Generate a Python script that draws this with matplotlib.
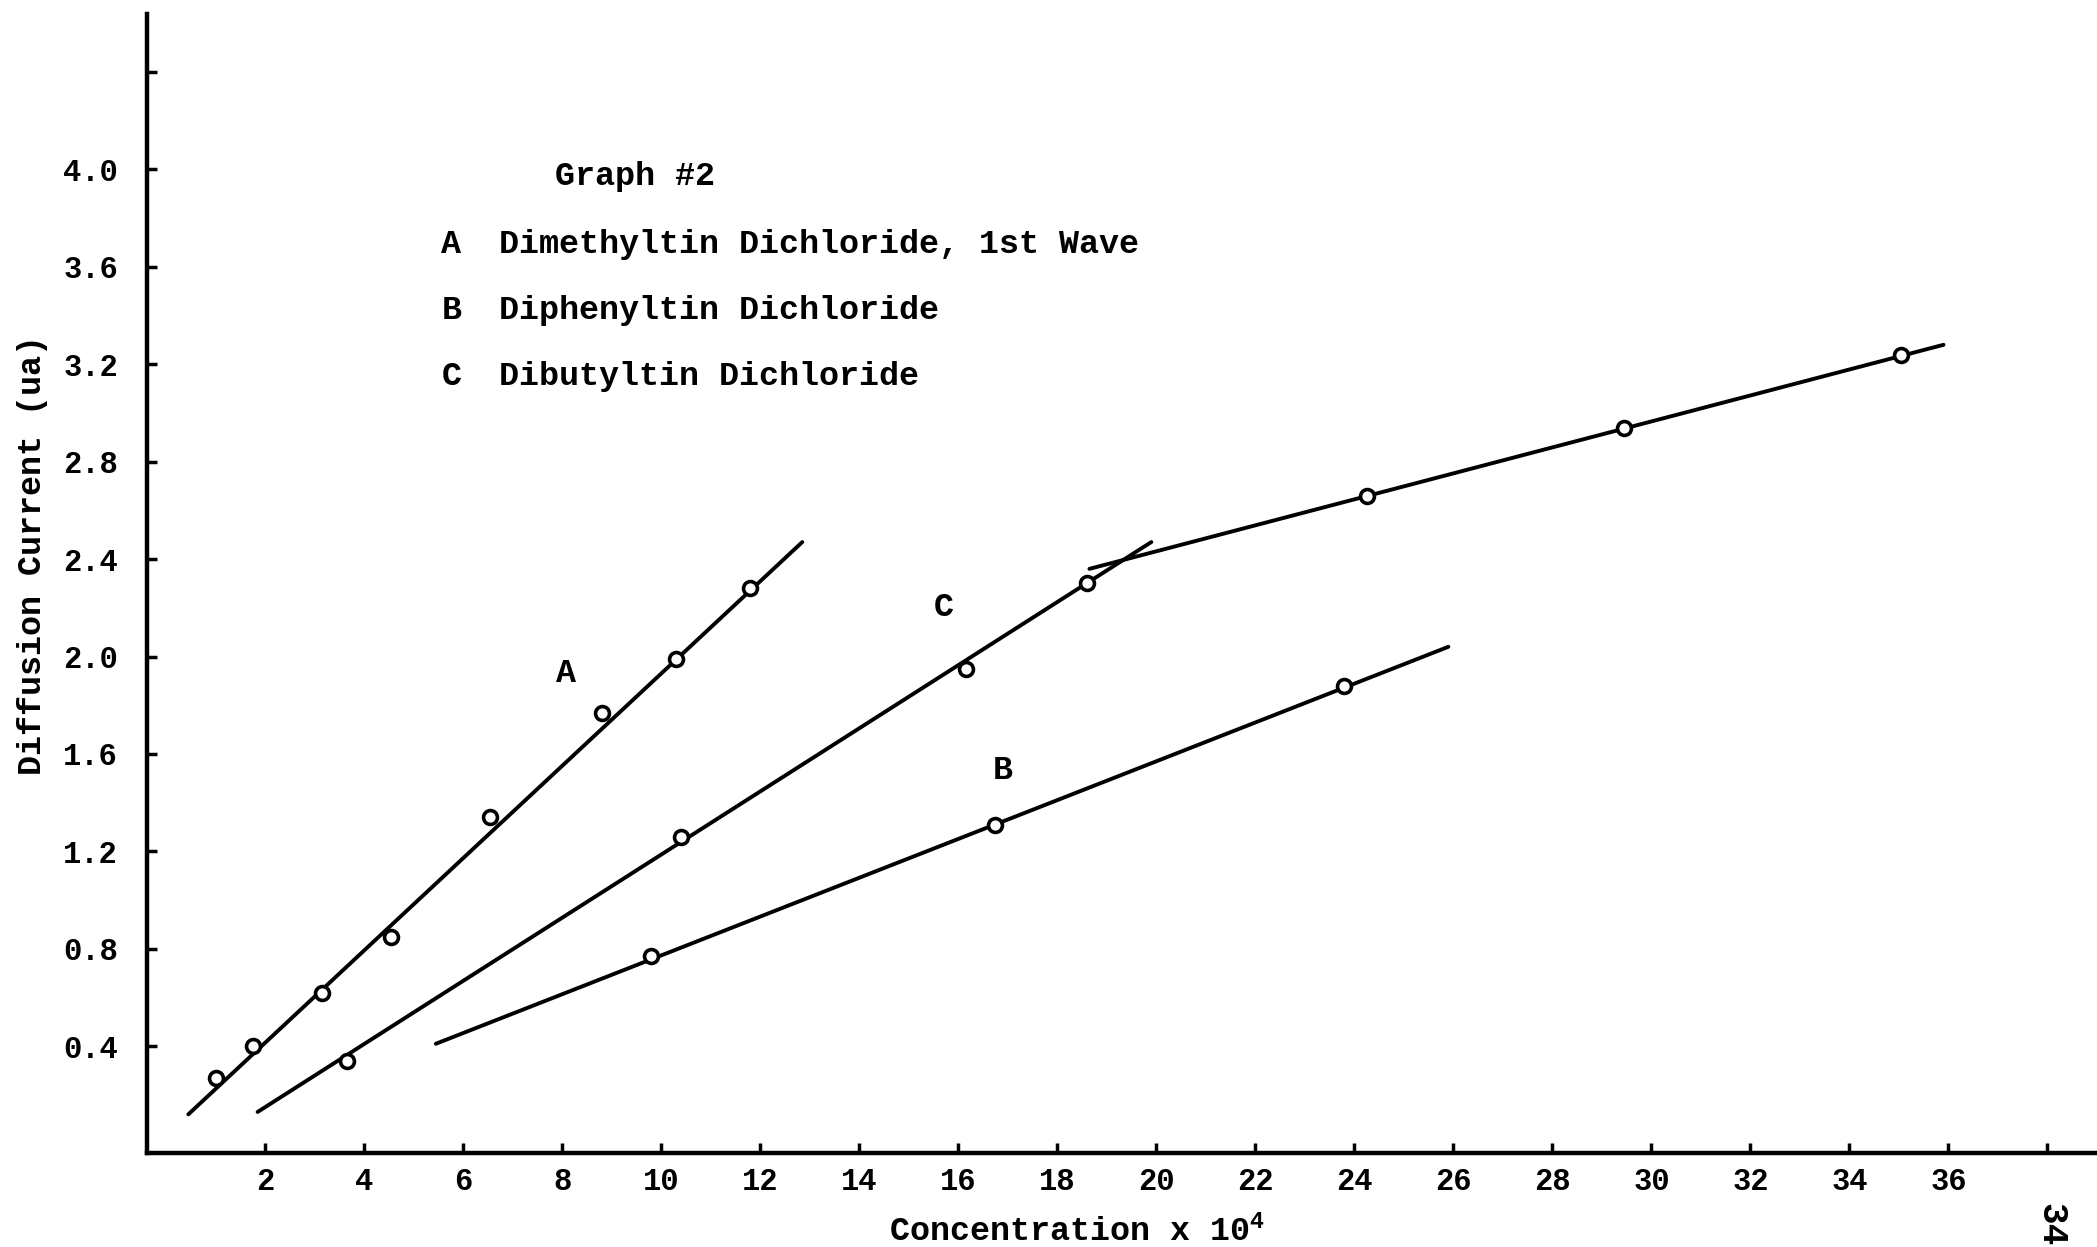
import matplotlib
matplotlib.use('Agg')
import matplotlib.pyplot as plt

# values (concentration x 10^4, diffusion current in ua)
a_conc = [1.0, 1.75, 3.15, 4.55, 6.55, 8.8, 10.3, 11.8]
a_curr = [0.27, 0.40, 0.62, 0.85, 1.34, 1.77, 1.99, 2.28]
a_fit_conc = [0.45, 12.85]
a_fit_curr = [0.12, 2.47]

b_conc = [9.8, 16.75, 23.8]
b_curr = [0.77, 1.31, 1.88]
b_fit_conc = [5.45, 25.9]
b_fit_curr = [0.41, 2.04]

c_conc = [3.65, 10.4, 16.15, 18.6, 24.25, 29.45, 35.05]
c_curr = [0.34, 1.26, 1.95, 2.30, 2.66, 2.94, 3.24]
c_fit1_conc = [1.85, 19.9]
c_fit1_curr = [0.13, 2.47]
c_fit2_conc = [18.65, 35.9]
c_fit2_curr = [2.36, 3.28]

x_ticks = list(range(2, 40, 2))
x_labels = [str(t) for t in range(2, 38, 2)] + ['']
y_ticks = [0.4, 0.8, 1.2, 1.6, 2.0, 2.4, 2.8, 3.2, 3.6, 4.0, 4.4]
y_labels = ['0.4', '0.8', '1.2', '1.6', '2.0', '2.4', '2.8', '3.2', '3.6', '4.0', '']

legend_rows = [('A', 'Dimethyltin Dichloride, 1st Wave'),
               ('B', 'Diphenyltin Dichloride'),
               ('C', 'Dibutyltin Dichloride')]

plt.rcParams['font.family'] = ['Liberation Mono', 'DejaVu Sans Mono']
plt.rcParams['font.weight'] = 'bold'
plt.rcParams['axes.labelweight'] = 'bold'
plt.rcParams['mathtext.default'] = 'regular'
fs = 24
tfs = 22

fig = plt.figure(figsize=(20.97, 12.47), dpi=100)
ax = fig.add_axes([0.0702, 0.0751, 0.9298, 0.914])

line_kw = dict(color='black', lw=2.8, solid_capstyle='round')
mark_kw = dict(ls='none', marker='o', ms=10, mfc='white', mec='black', mew=2.6)

ax.plot(a_fit_conc, a_fit_curr, **line_kw)
ax.plot(b_fit_conc, b_fit_curr, **line_kw)
ax.plot(c_fit1_conc, c_fit1_curr, **line_kw)
ax.plot(c_fit2_conc, c_fit2_curr, **line_kw)
ax.plot(a_conc, a_curr, **mark_kw)
ax.plot(b_conc, b_curr, **mark_kw)
ax.plot(c_conc, c_curr, **mark_kw)

ax.text(8.07, 1.93, 'A', fontsize=fs, ha='center', va='center')
ax.text(15.7, 2.20, 'C', fontsize=fs, ha='center', va='center')
ax.text(16.9, 1.53, 'B', fontsize=fs, ha='center', va='center')

ax.text(7.85, 3.97, 'Graph #2', fontsize=fs, ha='left', va='center')
for i, (key, name) in enumerate(legend_rows):
    yy = 3.69 - i * 0.27
    ax.text(5.56, yy, key, fontsize=fs, ha='left', va='center')
    ax.text(6.72, yy, name, fontsize=fs, ha='left', va='center')

ax.set_xlim(-0.38, 39.0)
ax.set_ylim(-0.04, 4.64)
ax.set_xticks(x_ticks)
ax.set_xticklabels(x_labels, fontsize=tfs)
ax.set_yticks(y_ticks)
ax.set_yticklabels(y_labels, fontsize=tfs)
ax.tick_params(axis='both', direction='in', length=7, width=2.5)
ax.tick_params(axis='x', pad=10)
ax.tick_params(axis='y', pad=21)

for side in ['top', 'right']:
    ax.spines[side].set_visible(False)
for side in ['left', 'bottom']:
    ax.spines[side].set_linewidth(3.2)

ax.set_ylabel('Diffusion Current (ua)', fontsize=fs)
ax.yaxis.set_label_coords(-0.051, 0.525)
ax.set_xlabel('Concentration x 10$^{4}$', fontsize=fs)
ax.xaxis.set_label_coords(0.477, -0.054)

fig.text(0.978, 0.018, '34', fontsize=26, rotation=-90, ha='center', va='center')

fig.savefig('out.png', dpi=100, facecolor='white')
